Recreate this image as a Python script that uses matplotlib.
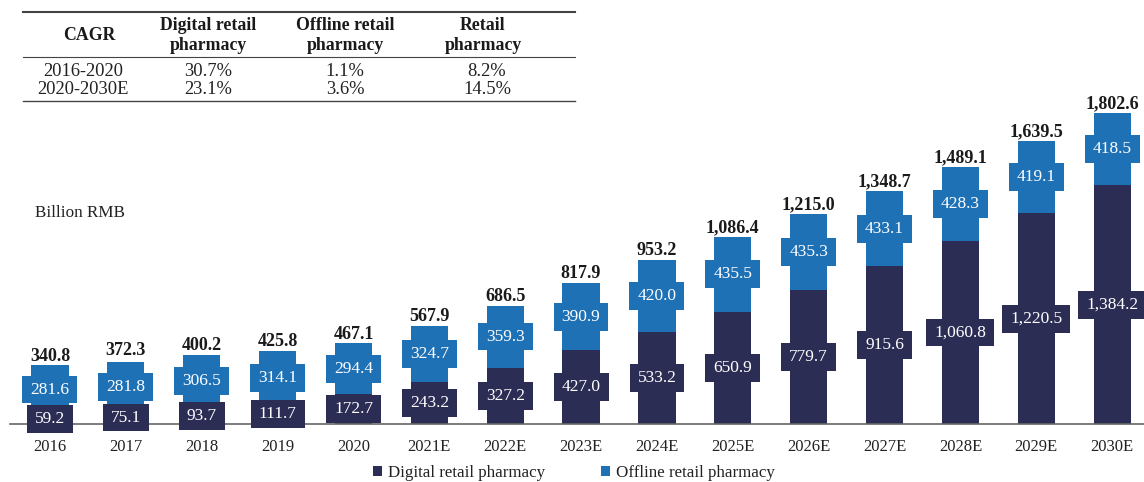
import numpy as np
import matplotlib.pyplot as plt
from matplotlib.lines import Line2D
from matplotlib.path import Path

plt.rcParams['font.family'] = ['Liberation Serif', 'DejaVu Serif']

years = ['2016', '2017', '2018', '2019', '2020', '2021E', '2022E', '2023E',
         '2024E', '2025E', '2026E', '2027E', '2028E', '2029E', '2030E']
digital = [59.2, 75.1, 93.7, 111.7, 172.7, 243.2, 327.2, 427.0,
           533.2, 650.9, 779.7, 915.6, 1060.8, 1220.5, 1384.2]
offline = [281.6, 281.8, 306.5, 314.1, 294.4, 324.7, 359.3, 390.9,
           420.0, 435.5, 435.3, 433.1, 428.3, 419.1, 418.5]
totals = [340.8, 372.3, 400.2, 425.8, 467.1, 567.9, 686.5, 817.9,
          953.2, 1086.4, 1215.0, 1348.7, 1489.1, 1639.5, 1802.6]

cagr_cols = ['CAGR', 'Digital retail\npharmacy', 'Offline retail\npharmacy', 'Retail\npharmacy']
cagr_rows = [['2016-2020', '30.7%', '1.1%', '8.2%'],
             ['2020-2030E', '23.1%', '3.6%', '14.5%']]

dark = '#2C2D55'
blue = '#1F71B6'
W, H = 1144, 482


def label_box(x0, y0, width, height, mutation_size):
    # wider horizontal padding than vertical, like the source boxes
    px = 0.46 * mutation_size
    py = 0.34 * mutation_size
    return Path([(x0 - px, y0 - py), (x0 + width + px, y0 - py),
                 (x0 + width + px, y0 + height + py), (x0 - px, y0 + height + py),
                 (x0 - px, y0 - py)], closed=True)


fig = plt.figure(figsize=(W / 100, H / 100), dpi=100)
ax = fig.add_axes([10 / W, 58 / H, 1134 / W, 334 / H])

x = np.arange(len(years))
ax.bar(x, digital, 0.49, color=dark, label='Digital retail pharmacy')
ax.bar(x, offline, 0.49, bottom=digital, color=blue, label='Offline retail pharmacy')

for i in range(len(years)):
    ax.text(x[i], digital[i] / 2, f'{digital[i]:,.1f}', ha='center', va='center',
            color='white', fontsize=12.5,
            bbox=dict(boxstyle=label_box, fc=dark, ec='none'))
    ax.text(x[i], digital[i] + offline[i] / 2, f'{offline[i]:,.1f}', ha='center',
            va='center', color='white', fontsize=12.5,
            bbox=dict(boxstyle=label_box, fc=blue, ec='none'))
    ax.annotate(f'{totals[i]:,.1f}', (x[i], totals[i]), xytext=(0, 0.5),
                textcoords='offset points', ha='center', va='bottom',
                fontsize=13, fontweight='bold', color='#1a1a1a')

ax.set_xlim(-0.527, 14.42)
ax.set_ylim(0, 334 / 0.1725)
ax.set_xticks(x)
ax.set_xticklabels(years, fontsize=12, color='#222222')
ax.tick_params(axis='x', length=0, pad=11)
ax.set_yticks([])
for s in ['top', 'right', 'left']:
    ax.spines[s].set_visible(False)
ax.spines['bottom'].set_color('#666666')
ax.spines['bottom'].set_linewidth(1.2)

fig.text(35 / W, 1 - 213 / H, 'Billion RMB', fontsize=12.3, va='center', color='#222222')

leg = fig.legend(loc='center', bbox_to_anchor=(574 / W, 1 - 473 / H), ncol=2,
                 frameon=False, fontsize=12.2, handlelength=0.55, handleheight=0.55,
                 handletextpad=0.35, columnspacing=3.3)
for t in leg.get_texts():
    t.set_color('#222222')

# CAGR table
col_x = [89, 208, 345, 483]
for cx, lab in zip(col_x, cagr_cols):
    fig.text(cx / W, 1 - 35.5 / H, lab, ha='center', va='center', fontsize=12.8,
             fontweight='bold', linespacing=1.3, color='#1a1a1a')
row_x = [83, 208, 345, 487]
for ry, row in zip([71, 90], cagr_rows):
    for cx, val in zip(row_x, row):
        fig.text(cx / W, 1 - ry / H, val, ha='center', va='center', fontsize=13.3,
                 color='#222222')
for ly, lw in [(12, 1.5), (57, 0.8), (101, 1.0)]:
    fig.add_artist(Line2D([23 / W, 575 / W], [1 - ly / H, 1 - ly / H],
                          color='#444444', lw=lw))

fig.savefig('out.png', dpi=100)
